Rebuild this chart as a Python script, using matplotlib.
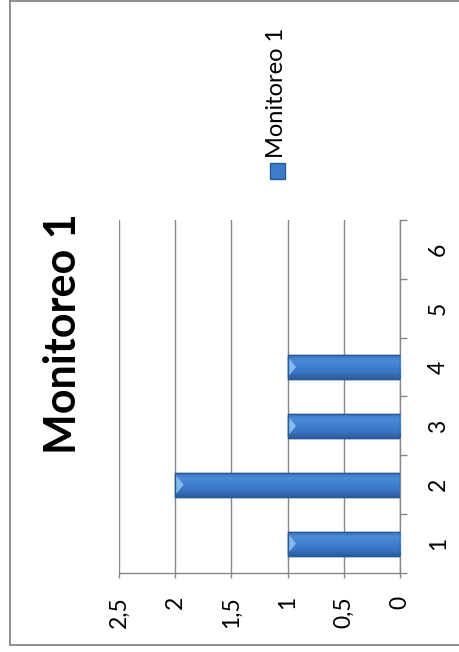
import numpy as np
import matplotlib
matplotlib.use("Agg")
import matplotlib.pyplot as plt
from matplotlib.lines import Line2D
from matplotlib.patches import Rectangle, Polygon
from matplotlib.colors import LinearSegmentedColormap

plt.rcParams['font.family'] = ['Lato', 'DejaVu Sans']

# series data
categorias = [1, 2, 3, 4, 5, 6]
valores = [1, 2, 1, 1, 0, 0]
ticks_valor = [0, 0.5, 1, 1.5, 2, 2.5]
etiquetas_valor = ['0', '0,5', '1', '1,5', '2', '2,5']
titulo = 'Monitoreo 1'
serie = 'Monitoreo 1'

azul = '#3d7cc9'
borde = '#2a5a96'
gris = '#878787'
alto = 0.41

# shading across each bar: dark edges, lighter upper band
sombra = LinearSegmentedColormap.from_list(
    'barra', ['#2c5c9c', '#3a74c2', '#3f7fcf', '#4b8bd9', '#3b73bb'])

fig = plt.figure(figsize=(4.6, 6.52), dpi=100)
ax = fig.add_axes([0.2587, 0.1212, 0.6109, 0.5414])

# chart is drawn turned on its side: values run right to left
cats = np.array(categorias)
vals = np.array(valores, dtype=float)
hay = vals > 0
barras = ax.barh(cats[hay], vals[hay], height=alto, color=azul, edgecolor=borde,
                 linewidth=1.0, zorder=3)

grad = np.linspace(0, 1, 64).reshape(-1, 1)
for b, v, c in zip(barras, vals[hay], cats[hay]):
    im = ax.imshow(grad, cmap=sombra, aspect='auto', origin='lower',
                   extent=[0, v, c - alto / 2, c + alto / 2], zorder=3.5,
                   interpolation='bilinear')
    im.set_clip_path(b)
    # light chevron at the end of the bar
    punta = 0.075
    ax.add_patch(Polygon([[v, c - alto / 2 + 0.03], [v, c + alto / 2 - 0.03],
                          [v - punta, c]], closed=True, facecolor='#8cc2f2',
                         edgecolor='none', alpha=0.9, zorder=4))
    ax.add_patch(Rectangle((0, c - alto / 2), v, alto, facecolor='none',
                           edgecolor=borde, linewidth=1.0, zorder=4.5))

ax.set_xlim(2.5, 0)
ax.set_ylim(0.5, 6.5)

ax.set_xticks(ticks_valor)
ax.set_xticklabels(etiquetas_valor, rotation=90, fontsize=16.5)
ax.tick_params(axis='x', length=3.5, width=1, color=gris, pad=13)
ax.grid(axis='x', color=gris, linewidth=1.0, zorder=0)

# category labels centred between boundary ticks, on the right side
ax.yaxis.tick_right()
ax.set_yticks(np.arange(0.5, 7, 1))
ax.set_yticklabels([])
ax.set_yticks(cats, minor=True)
ax.set_yticklabels([str(c) for c in categorias], minor=True, rotation=90,
                   fontsize=16.5, va='center')
ax.tick_params(axis='y', which='major', length=5, width=1, color=gris)
ax.tick_params(axis='y', which='minor', length=0, pad=20)

for lado in ['top', 'left']:
    ax.spines[lado].set_visible(False)
for lado in ['bottom', 'right']:
    ax.spines[lado].set_color(gris)
    ax.spines[lado].set_linewidth(1.0)

fig.text(0.136, 0.488, titulo, rotation=90, fontsize=31, fontweight='bold',
         ha='center', va='center')

# legend entry
fig.patches.append(Rectangle((270 / 460, 1 - 179 / 652), 15 / 460, 16 / 652,
                             transform=fig.transFigure, facecolor=azul,
                             edgecolor=borde, linewidth=1.0))
fig.text(277 / 460, 1 - 158 / 652, serie, rotation=90, fontsize=17,
         ha='center', va='bottom')

# outer frame
for xs, ys in [([10, 10], [1, 645]), ([10, 460], [1, 1]), ([10, 460], [645, 645])]:
    fig.lines.append(Line2D([x / 460 for x in xs], [1 - y / 652 for y in ys],
                            transform=fig.transFigure, color=gris, linewidth=1.3))

fig.savefig('out.png', dpi=100)
